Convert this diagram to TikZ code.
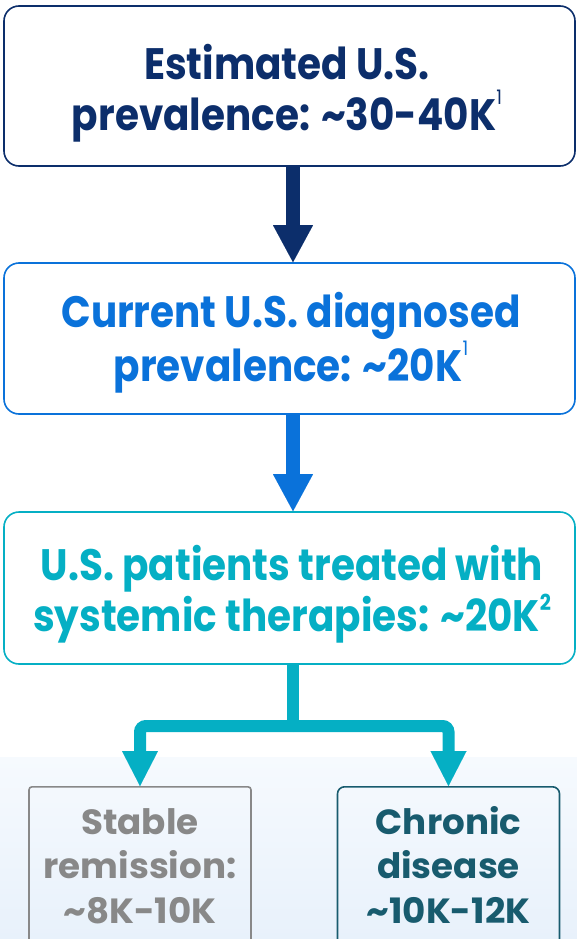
\documentclass[tikz,border=0pt]{standalone}
\usepackage{fontspec}
\setmainfont{Poppins}
\newfontfamily\geowide{Poppins}[FakeStretch=0.885]
\newfontfamily\geonarrow{Poppins}[FakeStretch=1.02]
\usetikzlibrary{arrows.meta}
\definecolor{navy}{HTML}{0C2E6B}
\definecolor{brightblue}{HTML}{0A72DA}
\definecolor{aqua}{HTML}{05AFC4}
\definecolor{stonegray}{HTML}{888888}
\definecolor{deepteal}{HTML}{185B6E}
\definecolor{bgtop}{HTML}{F6FAFE}
\definecolor{bgbot}{HTML}{E8F1FB}
\newcommand\supthin[1]{\raisebox{0.6em}{\fontsize{20}{20}\selectfont\mdseries #1}}
\newcommand\supbold[1]{\raisebox{0.48em}{\fontsize{22}{22}\selectfont\bfseries #1}}
\begin{document}
\begin{tikzpicture}[x=1pt,y=-1pt,
  bigbox/.style={draw, line width=1.6pt, rounded corners=15pt, minimum width=571pt, inner sep=0pt},
  bigtext/.style={align=center, inner sep=0pt, anchor=base,
    font=\geowide\bfseries\fontsize{44}{51.5}\selectfont},
  smallbox/.style={draw, line width=1.6pt, minimum width=222pt, minimum height=170pt,
    anchor=north, inner sep=0pt},
  smalltext/.style={align=center, inner sep=0pt, anchor=base,
    font=\geonarrow\bfseries\fontsize{35}{44.5}\selectfont},
  fatarrow/.style={line width=14pt, -{Triangle[width=40pt,length=37pt,line width=0.01pt]}},
  branch/.style={line width=12pt, rounded corners=6pt, -{Triangle[width=36pt,length=35pt,line width=0.01pt]}}]
\useasboundingbox (0,0) rectangle (577,939);
\clip (0,0) rectangle (577,939);
% pale backdrop behind the lower row
\shade[top color=bgtop, bottom color=bgbot] (0,757) rectangle (577,939);

\coordinate (ax) at (293,0);
\coordinate (split) at (293,726);

% upper boxes
\node[bigbox, draw=navy, minimum height=160pt] (b1) at (289.5,86) {};
\node[bigbox, draw=brightblue, minimum height=151pt] (b2) at (289.5,338.5) {};
\node[bigbox, draw=aqua, minimum height=152pt] (b3) at (289.5,588) {};

% the base anchor sits on the last line of each text
\node[bigtext, text=navy] (t1) at (287,131)
  {Estimated U.S.\\prevalence: \textasciitilde30-40K\supthin{1}};
\node[bigtext, text=brightblue] (t2) at (291,381.5)
  {Current U.S. diagnosed\\prevalence: \textasciitilde20K\supthin{1}};
\node[bigtext, text=aqua] (t3) at (292,631.5)
  {U.S. patients treated with\\systemic therapies: \textasciitilde20K\supbold{2}};

% lower boxes
\node[smallbox, draw=stonegray, rounded corners=3pt] (b4) at (140,786) {};
\node[smallbox, draw=deepteal, rounded corners=7pt] (b5) at (448.5,786) {};
\node[smalltext, text=stonegray] (t4) at (b4.north |- 0,923) {Stable\\remission:\\\textasciitilde8K-10K};
\node[smalltext, text=deepteal] (t5) at (b5.north |- 0,923) {Chronic\\disease\\\textasciitilde10K-12K};

% connectors
\draw[navy, fatarrow] (b1.south -| ax) -- (b2.north -| ax);
\draw[brightblue, fatarrow] (b2.south -| ax) -- (b3.north -| ax);
\draw[aqua, line width=12pt] (b3.south -| ax) -- (split);
\draw[aqua, branch] (split) -| (b4.north);
\draw[aqua, branch] (split) -| (b5.north);
\end{tikzpicture}
\end{document}
